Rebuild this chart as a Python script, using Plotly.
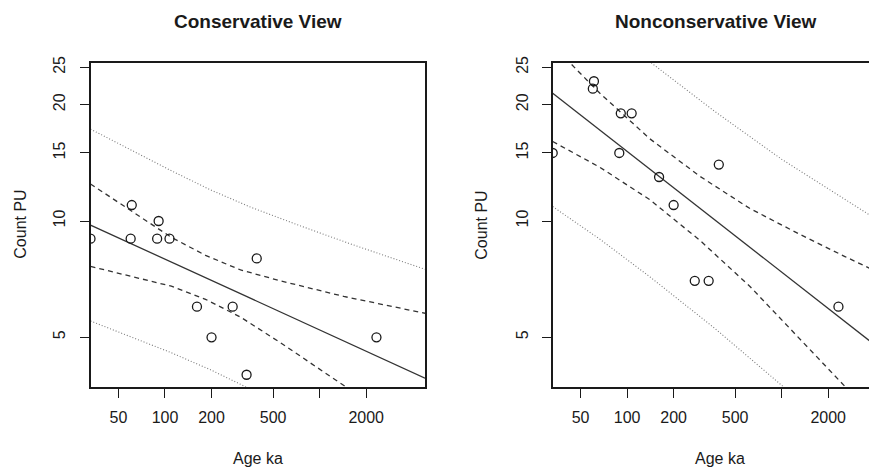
import math
import plotly.graph_objects as go

# ---------------- data ----------------
age_ticks = [50, 100, 200, 500, 1000, 2000]
age_tick_labels = ["50", "100", "200", "500", "", "2000"]
count_ticks = [5, 10, 15, 20, 25]
count_tick_labels = ["5", "10", "15", "20", "25"]

ages = [33, 60, 61, 89, 91, 107, 161, 200, 274, 337, 392, 2330]
count_cons = [9, 9, 11, 9, 10, 9, 6, 5, 6, 4, 8, 5]
count_noncons = [15, 22, 23, 15, 19, 19, 13, 11, 7, 7, 14, 6]

# Conservative view: fitted line, confidence (dashed) and prediction (dotted) bands
cons_fit_age = [33, 4800]
cons_fit = [9.76, 3.92]
cons_conf_age = [33, 59.8, 110, 183, 308, 559, 1430, 4800]
cons_conf_upper = [12.47, 10.68, 9.07, 8.15, 7.47, 7.00, 6.38, 5.77]
cons_conf_lower_age = [33, 59.8, 110, 183, 308, 559, 1430, 1635]
cons_conf_lower = [7.63, 7.21, 6.78, 6.27, 5.64, 4.84, 3.76, 3.62]
cons_pred_upper_age = [33, 110, 197, 358, 753, 1587, 4800]
cons_pred_upper = [17.29, 13.49, 12.04, 10.86, 9.71, 8.72, 7.50]
cons_pred_lower_age = [33, 110, 197, 358]
cons_pred_lower = [5.51, 4.56, 4.12, 3.67]

# Nonconservative view
non_fit_age = [33, 4138]
non_fit = [21.41, 4.73]
non_conf_age = [33, 45.9, 66.7, 140.4, 295.9, 623.7, 1313.5, 2568, 4138]
non_conf_upper = [28.5, 24.94, 21.41, 16.32, 13.05, 10.77, 9.23, 8.09, 7.39]
non_conf_lower = [16.06, 14.94, 13.77, 11.35, 8.91, 6.77, 4.96, 3.73, 3.02]
non_pred_upper_age = [66.7, 140.4, 370, 1004.6, 4138]
non_pred_upper = [32.9, 25.83, 19.20, 14.43, 10.08]
non_pred_lower_age = [33, 66.7, 140.4, 370, 1004.6, 1313.5]
non_pred_lower = [10.90, 8.97, 7.17, 5.27, 3.75, 3.41]

x_range_cons = [33, 4800]
x_range_non = [33, 4138]
y_range = [3.725, 25.69]

# ---------------- layout constants ----------------
OFF = 8                      # page body margin
W, H = 877 - OFF, 467 - OFF  # figure fits the window exactly
FONT = "Liberation Sans, Arial, sans-serif"
INK = "#1a1a1a"

fig = go.Figure()

def add_panel(xa, ya, fit_age, fit, conf_age_u, conf_u, conf_age_l, conf_l,
              pu_age, pu, pl_age, pl, counts):
    common = dict(xaxis=xa, yaxis=ya, showlegend=False, hoverinfo="skip")
    dot = dict(color="#7a7a7a", width=1.1, dash="1px,2px")
    dash = dict(color="#333333", width=1.3, dash="5px,4px")
    fig.add_trace(go.Scatter(x=pu_age, y=pu, mode="lines", line=dot, **common))
    fig.add_trace(go.Scatter(x=pl_age, y=pl, mode="lines", line=dot, **common))
    fig.add_trace(go.Scatter(x=conf_age_u, y=conf_u, mode="lines", line=dash, **common))
    fig.add_trace(go.Scatter(x=conf_age_l, y=conf_l, mode="lines", line=dash, **common))
    fig.add_trace(go.Scatter(x=fit_age, y=fit, mode="lines",
                             line=dict(color="#333333", width=1.3), **common))
    fig.add_trace(go.Scatter(x=ages, y=counts, mode="markers",
                             marker=dict(symbol="circle-open", size=9, color=INK,
                                         line=dict(width=1.3, color=INK)),
                             **common))

add_panel("x", "y", cons_fit_age, cons_fit, cons_conf_age, cons_conf_upper,
          cons_conf_lower_age, cons_conf_lower, cons_pred_upper_age, cons_pred_upper,
          cons_pred_lower_age, cons_pred_lower, count_cons)
add_panel("x2", "y2", non_fit_age, non_fit, non_conf_age, non_conf_upper,
          non_conf_age, non_conf_lower, non_pred_upper_age, non_pred_upper,
          non_pred_lower_age, non_pred_lower, count_noncons)

def px_x(p):
    return (p - OFF) / W

def px_y(p):
    return 1 - (p - OFF) / H

left_dom = [px_x(90.5), px_x(425)]
right_dom = [px_x(552.7), 1.0]
y_dom = [px_y(386.7), px_y(62.7)]

tickfont = dict(family=FONT, size=16, color=INK)

def xaxis(rng, dom, anchor):
    return dict(type="log", range=[math.log10(rng[0]), math.log10(rng[1])], domain=dom,
                anchor=anchor, tickvals=age_ticks, ticktext=age_tick_labels,
                ticks="outside", ticklen=9, tickwidth=1.2, tickcolor=INK,
                showgrid=False, zeroline=False, showline=True, linecolor=INK,
                linewidth=1.6, mirror=True, tickfont=tickfont, ticklabelstandoff=6,
                automargin=False)

def yaxis(anchor, mirror):
    return dict(type="log", range=[math.log10(y_range[0]), math.log10(y_range[1])],
                domain=y_dom, anchor=anchor, tickvals=count_ticks,
                ticktext=count_tick_labels, ticks="outside", ticklen=9, tickwidth=1.2,
                tickcolor=INK, tickangle=-90, showgrid=False, zeroline=False,
                showline=True, linecolor=INK, linewidth=1.6, mirror=mirror,
                tickfont=tickfont, ticklabelstandoff=8, automargin=False)

def ann(text, xpx, ypx, size, bold=False, angle=0):
    return dict(text=f"<b>{text}</b>" if bold else text, xref="paper", yref="paper",
                x=px_x(xpx), y=px_y(ypx), xanchor="center", yanchor="middle",
                showarrow=False, textangle=angle,
                font=dict(family=FONT, size=size, color=INK))

annotations = [
    ann("Conservative View", 257.75, 21, 19, bold=True),
    ann("Nonconservative View", 716, 21, 19, bold=True),
    ann("Age ka", 257.75, 458, 16),
    ann("Age ka", 720, 458, 16),
    ann("Count PU", 21, 224.7, 16, angle=-90),
    ann("Count PU", 482, 224.7, 16, angle=-90),
]

fig.update_layout(
    width=W, height=H, margin=dict(l=0, r=0, t=0, b=0),
    paper_bgcolor="white", plot_bgcolor="white",
    xaxis=xaxis(x_range_cons, left_dom, "y"),
    xaxis2=xaxis(x_range_non, right_dom, "y2"),
    yaxis=yaxis("x", True),
    yaxis2=yaxis("x2", False),
    annotations=annotations, showlegend=False,
)

fig.write_html("out.html")
